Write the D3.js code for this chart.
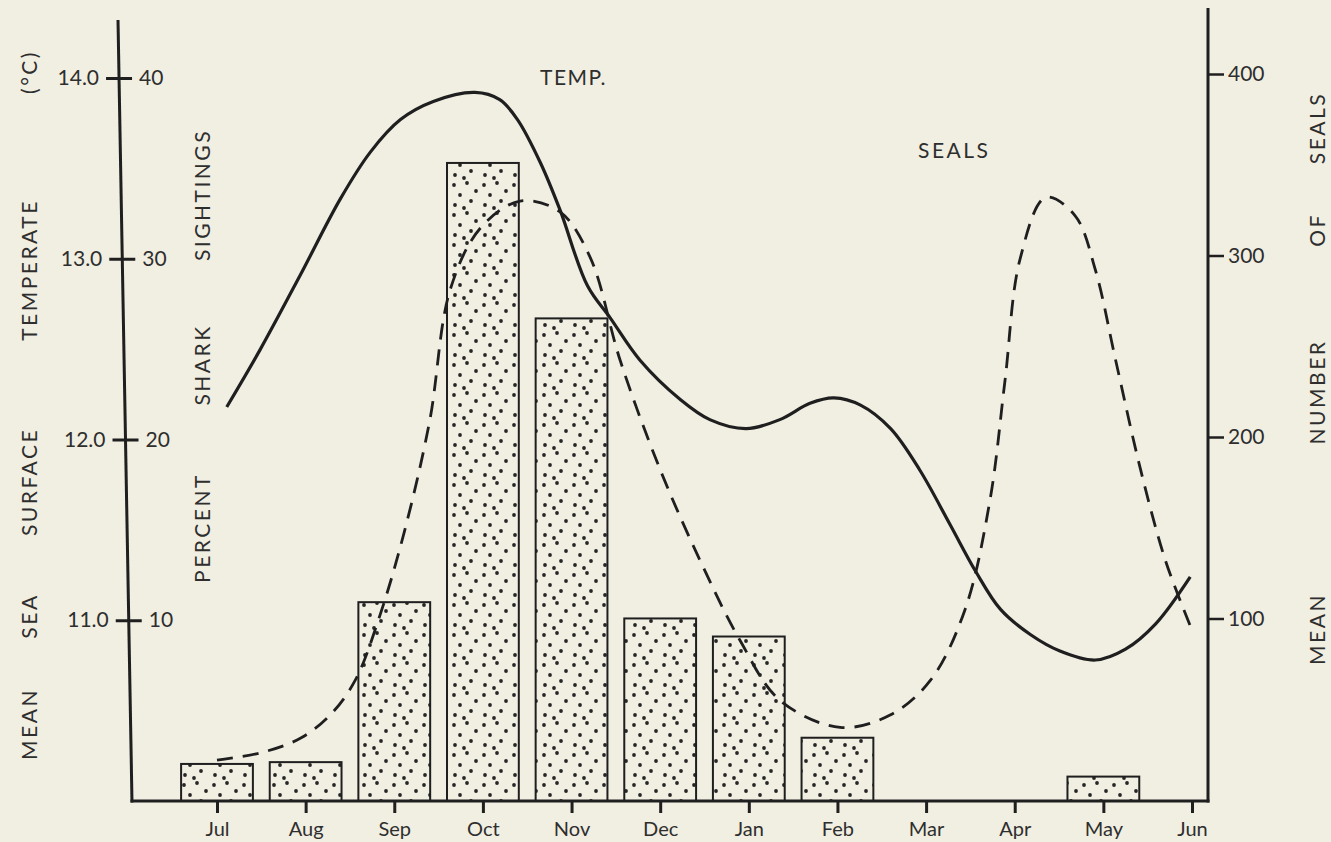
<!DOCTYPE html>
<html>
<head>
<meta charset="utf-8">
<script src="https://cdn.jsdelivr.net/npm/d3@7"></script>
<style>
  html, body { margin: 0; padding: 0; background: #f1eee2; }
  svg { display: block; }
  text { font-family: Lato, "DejaVu Sans", sans-serif; fill: #2e2e2e; }
</style>
</head>
<body>
<svg id="chart" width="1331" height="842"></svg>
<script>
// ---------------- DATA ----------------
const months = ["Jul","Aug","Sep","Oct","Nov","Dec","Jan","Feb","Mar","Apr","May","Jun"];
// percent shark sightings per month (bars)
const sharkPct = [2.05, 2.15, 11.0, 35.3, 26.7, 10.1, 9.1, 3.5, 0, 0, 1.35, 0];

// mean sea surface temperature (solid curve), x in month index (0 = Jul)
const tempMonth = [0.11, 0.49, 0.94, 1.39, 1.73, 2.07, 2.44, 2.91, 3.19, 3.39, 3.65, 3.87, 4.18, 4.44, 4.77, 5.23, 5.56, 5.97, 6.35, 6.69, 6.96, 7.26, 7.60, 7.93, 8.27, 8.56, 8.84, 9.18, 9.51, 9.91, 10.25, 10.59, 10.98];
const tempC     = [12.18, 12.50, 12.91, 13.33, 13.59, 13.77, 13.87, 13.92, 13.88, 13.77, 13.53, 13.27, 12.85, 12.67, 12.44, 12.22, 12.11, 12.06, 12.11, 12.20, 12.23, 12.19, 12.06, 11.83, 11.53, 11.27, 11.06, 10.92, 10.83, 10.78, 10.84, 10.98, 11.24];

// mean number of seals (dashed curve)
const sealMonth = [0, 0.49, 0.94, 1.28, 1.56, 1.84, 2.12, 2.40, 2.63, 2.97, 3.42, 3.87, 4.21, 4.55, 5.0, 5.45, 5.90, 6.35, 7.03, 7.6, 8.05, 8.44, 8.72, 8.89, 9.06, 9.35, 9.68, 9.91, 10.14, 10.42, 10.70, 10.98];
const sealCount = [22, 26, 34, 47, 66, 102, 149, 209, 281, 315, 330, 324, 299, 242, 182, 132, 88, 55, 40, 47, 66, 105, 165, 231, 298, 332, 322, 292, 242, 182, 132, 96];

// tick values
const tempTicks = [11, 12, 13, 14];
const pctTicks = [10, 20, 30, 40];
const sealTicks = [100, 200, 300, 400];

// ---------------- CHART ----------------
const svg = d3.select("#chart");
const ink = "#1f1f1f";
const font = "Lato, 'DejaVu Sans', sans-serif";

const x = d3.scaleLinear().domain([0, 11]).range([217, 1192]);
const step = x(1) - x(0);
const barW = step * 0.81;
const yPct = d3.scaleLinear().domain([0, 40]).range([801, 78]);
const yTemp = d3.scaleLinear().domain([10, 14]).range([801, 78]);
const ySeal = d3.scaleLinear().domain([0, 400]).range([800, 74]);

const rightX = 1208, baseY = 801;
// left axis is drawn slightly slanted, as in the original drawing
const leftTop = [118, 20], leftBot = [132, baseY + 1.5];
const leftAt = y => leftTop[0] + (y - leftTop[1]) / (leftBot[1] - leftTop[1]) * (leftBot[0] - leftTop[0]);

// stipple pattern
const defs = svg.append("defs");
const pat = defs.append("pattern").attr("id", "dots")
  .attr("patternUnits", "userSpaceOnUse").attr("width", 30).attr("height", 30);
pat.append("rect").attr("width", 30).attr("height", 30).attr("fill", "#f1eee2");
[[4,5],[17,3],[26,11],[10,15],[21,21],[5,25],[14,28]].forEach(p => {
  pat.append("circle").attr("cx", p[0]).attr("cy", p[1]).attr("r", 1.9).attr("fill", "#262626");
});

// bars
svg.append("g").selectAll("rect")
  .data(months.map((m, i) => ({ m, i, v: sharkPct[i] })).filter(d => d.v > 0))
  .join("rect")
  .attr("x", d => x(d.i) - barW / 2)
  .attr("y", d => yPct(d.v))
  .attr("width", barW)
  .attr("height", d => yPct(0) - yPct(d.v))
  .attr("fill", "url(#dots)")
  .attr("stroke", ink)
  .attr("stroke-width", 2);

// curves
const tempLine = d3.line().x(d => x(d[0])).y(d => yTemp(d[1])).curve(d3.curveCatmullRom.alpha(0.5));
svg.append("path")
  .attr("d", tempLine(tempMonth.map((m, i) => [m, tempC[i]])))
  .attr("fill", "none").attr("stroke", ink).attr("stroke-width", 3.2);

const sealLine = d3.line().x(d => x(d[0])).y(d => ySeal(d[1])).curve(d3.curveCatmullRom.alpha(0.5));
svg.append("path")
  .attr("d", sealLine(sealMonth.map((m, i) => [m, sealCount[i]])))
  .attr("fill", "none").attr("stroke", ink).attr("stroke-width", 2.8)
  .attr("stroke-dasharray", "16,10");

// axis lines
svg.append("line").attr("x1", leftTop[0]).attr("x2", leftBot[0]).attr("y1", leftTop[1]).attr("y2", leftBot[1])
  .attr("stroke", ink).attr("stroke-width", 3);
svg.append("line").attr("x1", rightX).attr("x2", rightX).attr("y1", 8).attr("y2", baseY + 1.5)
  .attr("stroke", ink).attr("stroke-width", 3);
svg.append("line").attr("x1", leftBot[0] - 1.5).attr("x2", rightX + 1.5).attr("y1", baseY).attr("y2", baseY)
  .attr("stroke", ink).attr("stroke-width", 3);

function styleAxis(g, sw) {
  g.select(".domain").remove();
  g.selectAll("line").attr("stroke", ink).attr("stroke-width", sw);
  g.selectAll("text").attr("font-size", 21).attr("fill", "#2e2e2e").style("font-family", font);
}

// left temperature + percent axes (one tick per group to follow the slanted spine)
tempTicks.forEach(v => {
  const g = svg.append("g").attr("transform", `translate(${leftAt(yTemp(v))},0)`)
    .call(d3.axisLeft(yTemp).tickValues([v]).tickSize(13).tickPadding(7).tickFormat(d3.format(".1f")));
  styleAxis(g, 3);
});
pctTicks.forEach(v => {
  const g = svg.append("g").attr("transform", `translate(${leftAt(yPct(v))},0)`)
    .call(d3.axisRight(yPct).tickValues([v]).tickSize(13).tickPadding(7));
  styleAxis(g, 3);
});

// right seal axis
const gSeal = svg.append("g").attr("transform", `translate(${rightX},0)`)
  .call(d3.axisRight(ySeal).tickValues(sealTicks).tickSize(16).tickPadding(4));
styleAxis(gSeal, 2.5);

// bottom month axis
const gX = svg.append("g").attr("transform", `translate(0,${baseY})`)
  .call(d3.axisBottom(x).tickValues(d3.range(12)).tickSize(12).tickPadding(9).tickFormat(i => months[i]));
styleAxis(gX, 3);
gX.selectAll("text").attr("font-size", 20);

// axis titles (vertical, word-spaced)
function vword(word, cx, cy) {
  svg.append("text")
    .attr("transform", `translate(${cx},${cy}) rotate(-90)`)
    .attr("text-anchor", "middle").attr("dominant-baseline", "central")
    .attr("font-size", 21).attr("letter-spacing", 2.5)
    .text(word);
}
const leftTitle = ["MEAN", "SEA", "SURFACE", "TEMPERATE", "(°C)"];
const leftTitleY = [724, 616, 482, 270, 72];
leftTitle.forEach((w, i) => vword(w, 28, leftTitleY[i]));

const midTitle = ["PERCENT", "SHARK", "SIGHTINGS"];
const midTitleY = [528, 365, 195];
midTitle.forEach((w, i) => vword(w, 201, midTitleY[i]));

const rightTitle = ["MEAN", "NUMBER", "OF", "SEALS"];
const rightTitleY = [629, 392, 230, 128];
rightTitle.forEach((w, i) => vword(w, 1316, rightTitleY[i]));

// series labels
svg.append("text").attr("x", 540).attr("y", 85).attr("font-size", 21).attr("letter-spacing", 1.5).text("TEMP.");
svg.append("text").attr("x", 918).attr("y", 158).attr("font-size", 21).attr("letter-spacing", 2.5).text("SEALS");
</script>
</body>
</html>
